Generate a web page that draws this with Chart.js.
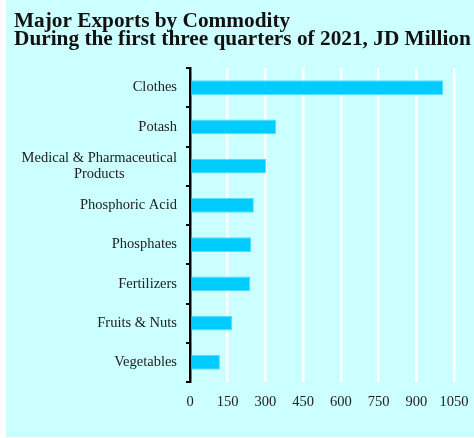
<!DOCTYPE html>
<html>
<head>
<meta charset="utf-8">
<script src="https://cdn.jsdelivr.net/npm/chart.js@4/dist/chart.umd.min.js"></script>
<style>
  html, body { margin: 0; padding: 0; background: #ffffff; }
  #panel { position: absolute; left: 6px; top: 0; width: 468px; height: 437px; background: #ccffff; }
  canvas { display: block; }
</style>
</head>
<body>
<div id="panel"><canvas id="exports-chart" width="468" height="437"></canvas></div>
<script>
// Datos del gráfico
const categories = [
  "Clothes",
  "Potash",
  ["Medical & Pharmaceutical", "Products"],
  "Phosphoric Acid",
  "Phosphates",
  "Fertilizers",
  "Fruits & Nuts",
  "Vegetables",
];
const exportValues = [1007, 342, 303, 254, 244, 240, 167, 119];
const xTickValues = [0, 150, 300, 450, 600, 750, 900, 1050];
const titleLines = [
  "Major Exports by Commodity",
  "During the first three quarters of 2021, JD Million",
];

const SERIF = '"Liberation Serif", "Times New Roman", serif';
const TEXT_COLOR = "#222222";
const LABEL_SIZE = 14.5;

// Título en dos líneas, sin el ancho máximo que impone el plugin de título
const chartTitle = {
  id: "chartTitle",
  afterDraw(chart) {
    const ctx = chart.ctx;
    ctx.save();
    ctx.font = "bold 21.3px " + SERIF;
    ctx.fillStyle = "#111111";
    ctx.textAlign = "left";
    ctx.textBaseline = "alphabetic";
    titleLines.forEach((line, i) => {
      ctx.fillText(line, 8, 26.7 + i * 18.3);
    });
    ctx.restore();
  },
};

// Etiquetas del eje Y: la línea larga alineada a la derecha, las demás centradas con ella
const categoryLabels = {
  id: "categoryLabels",
  afterDraw(chart) {
    const ctx = chart.ctx;
    const yScale = chart.scales.y;
    const rightEdge = chart.chartArea.left - 13;
    ctx.save();
    ctx.font = LABEL_SIZE + "px " + SERIF;
    ctx.fillStyle = TEXT_COLOR;
    ctx.textAlign = "center";
    ctx.textBaseline = "middle";
    categories.forEach((label, i) => {
      const lines = Array.isArray(label) ? label : [label];
      const widest = Math.max(...lines.map((l) => ctx.measureText(l).width));
      const cx = rightEdge - widest / 2;
      const cy = yScale.getPixelForValue(i);
      lines.forEach((line, j) => {
        ctx.fillText(line, cx, cy + (j - (lines.length - 1) / 2) * 16);
      });
    });
    ctx.restore();
  },
};

const ctx = document.getElementById("exports-chart").getContext("2d");
new Chart(ctx, {
  type: "bar",
  data: {
    labels: categories.map((c) => (Array.isArray(c) ? c.join(" ") : c)),
    datasets: [
      {
        data: exportValues,
        backgroundColor: "#00ccff",
        borderColor: "#55ddff",
        borderWidth: 1,
        barPercentage: 0.38,
        categoryPercentage: 1,
      },
    ],
  },
  options: {
    indexAxis: "y",
    responsive: false,
    animation: false,
    layout: { padding: { left: 8, right: 20, top: 68, bottom: 0 } },
    plugins: {
      legend: { display: false },
      tooltip: { enabled: false },
      title: { display: false },
    },
    scales: {
      x: {
        min: 0,
        max: 1050,
        afterBuildTicks: (scale) => {
          scale.ticks = xTickValues.map((v) => ({ value: v }));
        },
        afterFit: (scale) => {
          scale.height = 55;
          // el padding de las etiquetas no debe encoger el área del gráfico
          scale.paddingLeft = 0;
          scale.paddingRight = 0;
        },
        border: { display: false },
        grid: { color: "#ffffff", lineWidth: 2.5, drawTicks: false },
        ticks: {
          color: TEXT_COLOR,
          padding: 11,
          maxRotation: 0,
          font: { family: SERIF, size: LABEL_SIZE },
          callback: (value) => String(value),
        },
      },
      y: {
        afterFit: (scale) => {
          scale.width = 176;
        },
        border: { display: true, color: "#000000", width: 2.5 },
        grid: {
          offset: true,
          drawOnChartArea: false,
          drawTicks: true,
          tickLength: 4,
          color: "#000000",
          lineWidth: 2,
        },
        ticks: { display: false },
      },
    },
  },
  plugins: [chartTitle, categoryLabels],
});
</script>
</body>
</html>
